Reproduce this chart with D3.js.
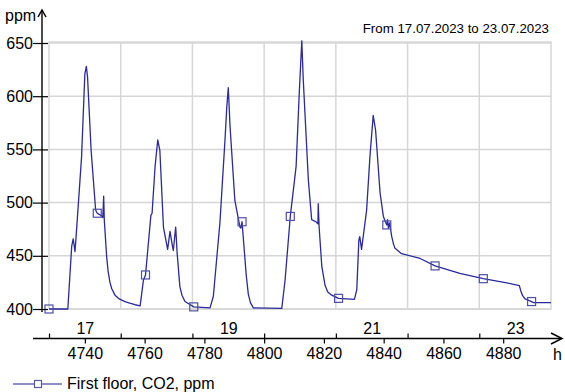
<!DOCTYPE html>
<html lang="en">
<head>
    <meta charset="UTF-8">
    <script src="https://d3js.org/d3.v7.min.js"></script>
    <title>CO2 first floor</title>
    <style>
        body { margin: 0; background: #fff; }
        text { font-family: "Liberation Sans", Arial, sans-serif; fill: #000; }
    </style>
</head>
<body>
    <svg id="chart" width="565" height="392"></svg>
    <script>
        // hour of year (17.07.2023 00:00 = 4728) and CO2 in ppm
        var hours = [4728, 4734.3, 4735.6, 4736.1, 4736.7, 4737.0, 4738.9, 4740.0, 4740.5, 4740.9,
            4742.1, 4743.6, 4744.15, 4745.4, 4746.0, 4746.3, 4746.5, 4747.3, 4747.8, 4748.4,
            4749.0, 4750.1, 4751.5, 4753.4, 4755.0, 4756.8, 4758.5, 4759.6, 4760.3, 4762.1,
            4762.5, 4763.5, 4764.4, 4765.1, 4766.3, 4767.7, 4768.5, 4769.3, 4769.6, 4770.4,
            4770.9, 4771.8, 4772.5, 4773.5, 4776.45, 4781.9, 4783.0, 4785.2, 4786.9, 4787.5,
            4788.0, 4788.6, 4790.2, 4791.9, 4792.2, 4792.6, 4794.0, 4794.7, 4795.4, 4796.4,
            4805.9, 4807.0, 4808.75, 4810.7, 4811.8, 4812.6, 4813.1, 4814.8, 4815.9, 4817.3,
            4818.0, 4818.1, 4818.4, 4819.3, 4820.4, 4821.3, 4822.6, 4824.9, 4830.2, 4831.0,
            4831.7, 4832.0, 4832.6, 4834.3, 4835.4, 4836.5, 4837.3, 4838.8, 4839.9, 4840.7,
            4841.05, 4841.3, 4841.6, 4842.0, 4842.7, 4843.3, 4843.8, 4846.0, 4852.2, 4857.2,
            4865.5, 4873.35, 4881.2, 4885.4, 4885.9, 4886.5, 4887.3, 4889.5, 4890.2, 4896];
        var ppm = [400, 400, 459, 466, 454, 465, 543, 621, 628, 618,
            549, 493, 490, 488, 486, 506, 484, 449, 435, 425,
            419, 413, 409.5, 407, 405.5, 404, 403, 427, 432, 488,
            490, 534, 559, 549, 477, 456, 473, 459, 455, 477,
            452, 421, 413, 407, 402, 401, 412, 481, 559, 590,
            608, 571, 502, 477, 476, 482, 432, 414, 406, 401,
            400.5, 427, 487, 534, 606, 652, 615, 521, 484, 482,
            480, 499, 477, 440, 422, 416, 413, 410, 409, 418,
            465, 468, 456, 493, 543, 582, 568, 509, 487, 481,
            479, 484, 476, 481, 468, 461, 457, 452, 447.5, 440.5,
            433.5, 428.5, 424.5, 422, 417, 412.5, 409.5, 407, 406, 406];
        // hours where the series draws its square markers
        var markerHours = [4728, 4744.15, 4760.3, 4776.45, 4792.6, 4808.75, 4824.9, 4841.05, 4857.2, 4873.35, 4889.5];

        var yTicks = [400, 450, 500, 550, 600, 650];
        var hourTicks = [4740, 4760, 4780, 4800, 4820, 4840, 4860, 4880];
        var dayStarts = [4728, 4752, 4776, 4800, 4824, 4848, 4872];
        var dayLabels = ["17", "19", "21", "23"];
        var dayLabelHours = [4740, 4788, 4836, 4884];

        var title = "From 17.07.2023 to 23.07.2023";
        var seriesName = "First floor, CO2, ppm";

        var data = hours.map(function (h, i) { return { h: h, v: ppm[i] }; });

        var svg = d3.select("#chart");
        var x = d3.scaleLinear().domain([4728, 4896]).range([49, 551]);
        var y = d3.scaleLinear().domain([400, 650]).range([309, 43]);

        var gridColor = "#d6d6d6";
        var lineColor = "#2a2a9c";

        // plot frame and grid
        svg.append("rect")
            .attr("x", x(4728)).attr("y", 42)
            .attr("width", x(4896) - x(4728)).attr("height", y(400) - 42)
            .attr("fill", "none").attr("stroke", gridColor).attr("stroke-width", 1.5);

        svg.selectAll(".gx").data(dayStarts.slice(1)).enter().append("line")
            .attr("x1", function (d) { return x(d); }).attr("x2", function (d) { return x(d); })
            .attr("y1", 42).attr("y2", y(400))
            .attr("stroke", gridColor).attr("stroke-width", 1.5);

        svg.selectAll(".gy").data(yTicks).enter().append("line")
            .attr("x1", x(4728)).attr("x2", x(4896))
            .attr("y1", function (d) { return y(d); }).attr("y2", function (d) { return y(d); })
            .attr("stroke", gridColor).attr("stroke-width", 1.5);

        // series
        var line = d3.line().x(function (d) { return x(d.h); }).y(function (d) { return y(d.v); });
        svg.append("path").datum(data)
            .attr("d", line)
            .attr("fill", "none").attr("stroke", lineColor).attr("stroke-width", 1.3)
            .attr("stroke-linejoin", "round");

        var markerData = markerHours.map(function (h) {
            return data.find(function (d) { return d.h === h; });
        });
        svg.selectAll(".mk").data(markerData).enter().append("rect")
            .attr("x", function (d) { return x(d.h) - 4; })
            .attr("y", function (d) { return y(d.v) - 4; })
            .attr("width", 8).attr("height", 8)
            .attr("fill", "none").attr("stroke", "#4f4fa6").attr("stroke-width", 1.2);

        // Y axis
        var yAxis = svg.append("g")
            .attr("transform", "translate(42,0)")
            .call(d3.axisLeft(y).tickValues(yTicks).tickSize(9).tickSizeOuter(0).tickPadding(0));
        yAxis.select(".domain").remove();
        yAxis.selectAll(".tick line").attr("x2", -9).attr("x1", 6).attr("stroke", "#000").attr("stroke-width", 1.2);
        yAxis.selectAll(".tick text").style("font-size", "16px").attr("fill", "#000");

        svg.append("line").attr("x1", 42).attr("x2", 42).attr("y1", 11).attr("y2", 312)
            .attr("stroke", "#000").attr("stroke-width", 1.4);
        svg.append("path").attr("d", "M38,17L42,10L46,17")
            .attr("fill", "none").attr("stroke", "#000").attr("stroke-width", 1.5);
        svg.append("text").attr("x", 5).attr("y", 21).style("font-size", "16px").text("ppm");

        // X axes: hours below, days above
        var axisY = 338.5;
        var hourAxis = svg.append("g")
            .attr("transform", "translate(0," + axisY + ")")
            .call(d3.axisBottom(x).tickValues(hourTicks).tickSize(5).tickSizeOuter(0).tickPadding(4.5)
                .tickFormat(d3.format("d")));
        hourAxis.select(".domain").remove();
        hourAxis.selectAll(".tick line").attr("stroke", "#000").attr("stroke-width", 1.2);
        hourAxis.selectAll(".tick text").style("font-size", "16px").attr("fill", "#000");

        var dayAxis = svg.append("g")
            .attr("transform", "translate(0," + axisY + ")")
            .call(d3.axisTop(x).tickValues(dayStarts).tickSize(5).tickSizeOuter(0).tickFormat(""));
        dayAxis.select(".domain").remove();
        dayAxis.selectAll(".tick line").attr("stroke", "#000").attr("stroke-width", 1.2);

        var dayText = svg.append("g")
            .attr("transform", "translate(0," + axisY + ")")
            .call(d3.axisTop(x).tickValues(dayLabelHours).tickSize(0).tickSizeOuter(0).tickPadding(4.5)
                .tickFormat(function (d, i) { return dayLabels[i]; }));
        dayText.select(".domain").remove();
        dayText.selectAll(".tick text").style("font-size", "16px").attr("fill", "#000");

        svg.append("line").attr("x1", 33).attr("x2", 561).attr("y1", axisY).attr("y2", axisY)
            .attr("stroke", "#000").attr("stroke-width", 1.4);
        svg.append("path").attr("d", "M551,333L562," + axisY + "L551,344")
            .attr("fill", "none").attr("stroke", "#000").attr("stroke-width", 1.5);
        svg.append("text").attr("x", 553).attr("y", 360).style("font-size", "16px").text("h");

        // title
        svg.append("text").attr("x", 549).attr("y", 32.5).attr("text-anchor", "end")
            .style("font-size", "13.3px").text(title);

        // legend
        svg.append("line").attr("x1", 13).attr("x2", 62).attr("y1", 384).attr("y2", 384)
            .attr("stroke", "#6a6ab2").attr("stroke-width", 1.3);
        svg.append("rect").attr("x", 34.5).attr("y", 380.5).attr("width", 7).attr("height", 7)
            .attr("fill", "#fff").attr("stroke", "#5a5aaa").attr("stroke-width", 1.2);
        svg.append("text").attr("x", 67).attr("y", 388.5).style("font-size", "16px").text(seriesName);
    </script>
</body>
</html>
